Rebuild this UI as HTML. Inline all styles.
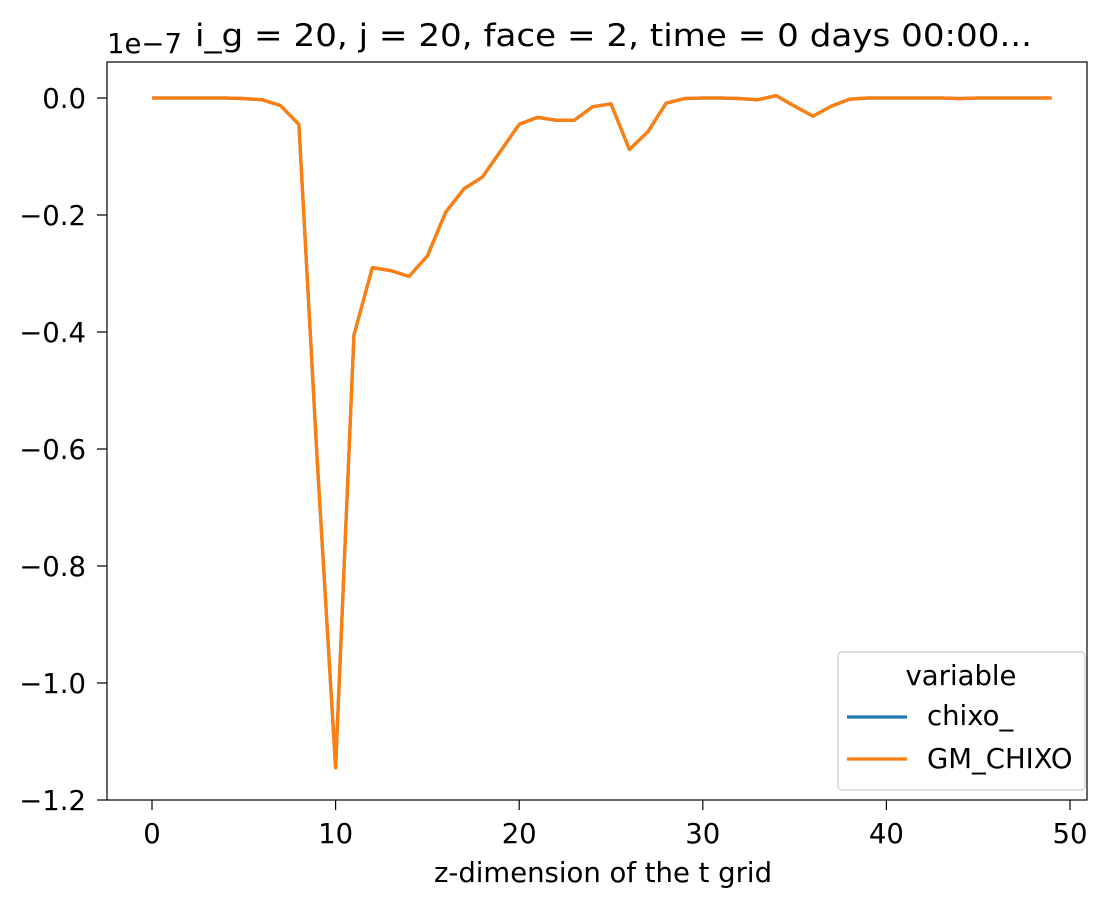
<!DOCTYPE html>
<html><head><meta charset="utf-8"><style>
body{margin:0;background:#fff;}
svg text{font-family:"DejaVu Sans","Liberation Sans",sans-serif;}
</style></head><body>
<svg id="chart" width="1118" height="908">
<rect x="0" y="0" width="1118" height="908" fill="#fff"/>
<g id="plot"></g>
</svg>
<script>
const xs = [0,1,2,3,4,5,6,7,8,9,10,11,12,13,14,15,16,17,18,19,20,21,22,23,24,25,26,27,28,29,30,31,32,33,34,35,36,37,38,39,40,41,42,43,44,45,46,47,48,49];
const chixo = [0,0,0,0,0,-0.001,-0.003,-0.013,-0.045,-0.62,-1.145,-0.405,-0.29,-0.295,-0.305,-0.27,-0.195,-0.155,-0.135,-0.09,-0.045,-0.033,-0.038,-0.038,-0.015,-0.01,-0.088,-0.058,-0.009,-0.001,0,0,-0.001,-0.003,0.004,-0.014,-0.031,-0.014,-0.002,0,0,0,0,0,-0.001,0,0,0,0,0];
const gm = chixo.slice();
const xTicks = [0,10,20,30,40,50];
const yTicks = [0.0,-0.2,-0.4,-0.6,-0.8,-1.0,-1.2];
const L=107,R=1087,T=62,B=800;
const sx=v=>152+v*18.36;
const sy=v=>98-v*585;
const ns='http://www.w3.org/2000/svg';
const g=document.getElementById('plot');
function mk(t,a,txt){const e=document.createElementNS(ns,t);for(const k in a)e.setAttribute(k,a[k]);if(txt!==undefined)e.textContent=txt;g.appendChild(e);return e;}
function pts(arr){return xs.map((x,i)=>sx(x).toFixed(2)+','+sy(arr[i]).toFixed(2)).join(' ');}
let l1=mk('polyline',{points:pts(chixo),fill:'none',stroke:'#1f77b4','stroke-width':3.3,'stroke-linejoin':'round'});


let l2=mk('polyline',{points:pts(gm),fill:'none',stroke:'#ff7f0e','stroke-width':3.3,'stroke-linejoin':'round'});


let fr=mk('rect',{x:L,y:T,width:R-L,height:B-T,fill:'none',stroke:'#000','stroke-width':1.2});


xTicks.forEach(v=>{
  mk('line',{x1:sx(v),x2:sx(v),y1:B,y2:B+10,stroke:'#000','stroke-width':1.2});
  let t=mk('text',{x:sx(v),y:843,'text-anchor':'middle','font-size':27.5},String(v));
  
  
});
yTicks.forEach(v=>{
  mk('line',{x1:L-10,x2:L,y1:sy(v),y2:sy(v),stroke:'#000','stroke-width':1.2});
  let t=mk('text',{x:86,y:sy(v)+10,'text-anchor':'end','font-size':27.5},(v<0?'\u2212':'')+Math.abs(v).toFixed(1));
  
  
});
let xt=mk('text',{x:603,y:882,'text-anchor':'middle','font-size':27.5},'z-dimension of the t grid');


let off=mk('text',{x:107,y:53,'font-size':27.5},'1e\u22127');


let ti=mk('text',{x:195,y:46,'font-size':31,'textLength':837,'lengthAdjust':'spacingAndGlyphs'},'i_g = 20, j = 20, face = 2, time = 0 days 00:00...');


let lb=mk('rect',{x:838,y:652,width:247,height:138,rx:4,fill:'#fff','fill-opacity':0.8,stroke:'#ccc','stroke-width':1.2});


let lt=mk('text',{x:961,y:685,'text-anchor':'middle','font-size':27.5},'variable');


[['chixo_','#1f77b4',717,725],['GM_CHIXO','#ff7f0e',759,768]].forEach(([n,c,y,ty])=>{
  mk('line',{x1:847,x2:907,y1:y,y2:y,stroke:c,'stroke-width':3.3});
  let t=mk('text',{x:927,y:ty,'font-size':27.5},n);
  
  
});
</script>
</body></html>
